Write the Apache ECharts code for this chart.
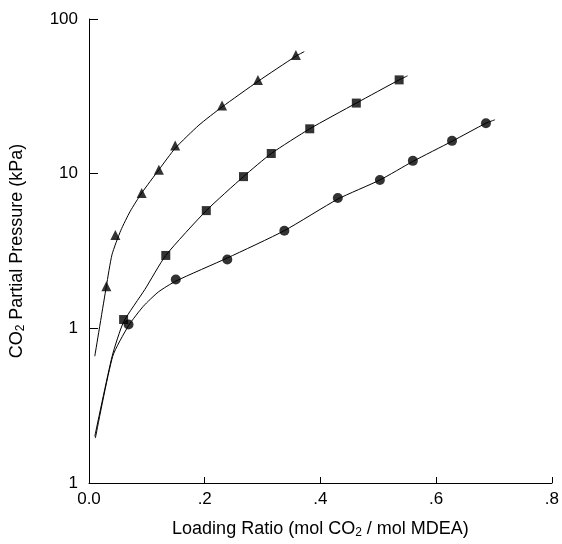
<!DOCTYPE html>
<html>
<head>
<meta charset="utf-8">
<script src="https://cdn.jsdelivr.net/npm/echarts@6/dist/echarts.min.js"></script>
<style>
  html, body { margin: 0; padding: 0; background: #fff; }
  #chart { width: 562px; height: 544px; }
</style>
</head>
<body>
<div id="chart"></div>
<script>
// Measured points: loading ratio (mol CO2 / mol MDEA) vs CO2 partial pressure (kPa)
var triangleX = [0.030, 0.0456, 0.0911, 0.1208, 0.149, 0.230, 0.292, 0.3575];
var triangleY = [1.87, 4.02, 7.5, 10.6, 15.2, 27.6, 40.4, 58.6];

var squareX = [0.0598, 0.1327, 0.2027, 0.267, 0.315, 0.3815, 0.462, 0.536];
var squareY = [1.14, 2.96, 5.77, 9.57, 13.5, 19.5, 28.6, 40.4];

var circleX = [0.0683, 0.150, 0.239, 0.3376, 0.430, 0.5027, 0.5597, 0.6274, 0.686];
var circleY = [1.06, 2.07, 2.79, 4.28, 6.97, 9.1, 12.1, 16.3, 21.2];

// Model curves
var triCurveX = [0.010, 0.030, 0.0398, 0.055, 0.0712, 0.0911, 0.1208, 0.149, 0.190, 0.230, 0.292, 0.3575, 0.372];
var triCurveY = [0.66, 1.87, 3.0, 4.3, 5.71, 7.5, 10.6, 14.6, 20.6, 27.0, 39.5, 57.5, 61.5];

var sqCurveX = [0.010, 0.040, 0.0598, 0.0968, 0.1327, 0.2027, 0.267, 0.315, 0.3815, 0.462, 0.536, 0.5505];
var sqCurveY = [0.20, 0.66, 1.10, 1.79, 2.96, 5.77, 9.57, 13.5, 19.5, 28.6, 40.4, 42.9];

var ciCurveX = [0.011, 0.041, 0.0683, 0.094, 0.120, 0.150, 0.239, 0.3376, 0.430, 0.5027, 0.5597, 0.6274, 0.686, 0.7015];
var ciCurveY = [0.195, 0.66, 1.04, 1.39, 1.72, 2.02, 2.85, 4.28, 6.85, 9.1, 12.0, 16.2, 21.2, 22.3];

// Axis tick labels
var xTickLabels = ['0.0', '.2', '.4', '.6', '.8'];
var yTickLabels = ['1', '1', '10', '100'];

function pairs(xs, ys) {
  return xs.map(function (x, i) { return [x, ys[i]]; });
}

var FONT = '"Liberation Sans", Arial, sans-serif';
var chart = echarts.init(document.getElementById('chart'), null, { renderer: 'canvas' });

function curve(xs, ys) {
  return {
    type: 'line',
    data: pairs(xs, ys),
    showSymbol: false,
    smooth: 0.2,
    lineStyle: { color: '#000', width: 1 },
    silent: true,
    z: 2
  };
}

function markers(xs, ys, symbol, size) {
  return {
    type: 'scatter',
    data: pairs(xs, ys),
    symbol: symbol,
    symbolSize: size,
    itemStyle: { color: '#000' },
    z: 3
  };
}

var subStyle = { fontSize: 12, fontFamily: FONT, color: '#000', padding: [8, 0, 0, 0] };

chart.setOption({
  animation: false,
  backgroundColor: '#fff',
  grid: { left: 86, right: 8, top: 19, bottom: 60, containLabel: false },
  xAxis: {
    type: 'value',
    min: 0,
    max: 0.8,
    interval: 0.2,
    name: 'Loading Ratio (mol CO{sub|2} / mol MDEA)',
    nameLocation: 'middle',
    nameGap: 36,
    nameTextStyle: {
      color: '#000',
      fontFamily: FONT,
      fontSize: 18,
      rich: { sub: subStyle }
    },
    axisLine: { show: true, onZero: false, lineStyle: { color: '#000', width: 1 } },
    axisTick: { show: true, inside: true, length: 6, lineStyle: { color: '#000' } },
    splitLine: { show: false },
    axisLabel: {
      color: '#000',
      fontFamily: FONT,
      fontSize: 17,
      margin: 8,
      formatter: function (v) { return xTickLabels[Math.round(v / 0.2)]; }
    }
  },
  yAxis: {
    type: 'log',
    logBase: 10,
    min: 0.1,
    max: 100,
    name: 'CO{sub|2} Partial Pressure (kPa)',
    nameLocation: 'middle',
    nameRotate: 90,
    nameGap: 62,
    nameTextStyle: {
      color: '#000',
      fontFamily: FONT,
      fontSize: 18,
      rich: { sub: subStyle }
    },
    axisLine: { show: true, lineStyle: { color: '#000', width: 1 } },
    axisTick: { show: true, inside: true, length: 9, lineStyle: { color: '#000' } },
    minorTick: { show: false },
    splitLine: { show: false },
    axisLabel: {
      color: '#000',
      fontFamily: FONT,
      fontSize: 17,
      margin: 11,
      showMinLabel: true,
      showMaxLabel: true,
      formatter: function (v) {
        var k = Math.round(Math.log10(v)) + 1;
        return yTickLabels[k];
      }
    }
  },
  series: [
    curve(triCurveX, triCurveY),
    curve(sqCurveX, sqCurveY),
    curve(ciCurveX, ciCurveY),
    markers(triangleX, triangleY, 'triangle', 10),
    markers(squareX, squareY, 'rect', 9),
    markers(circleX, circleY, 'circle', 10)
  ]
});
</script>
</body>
</html>
